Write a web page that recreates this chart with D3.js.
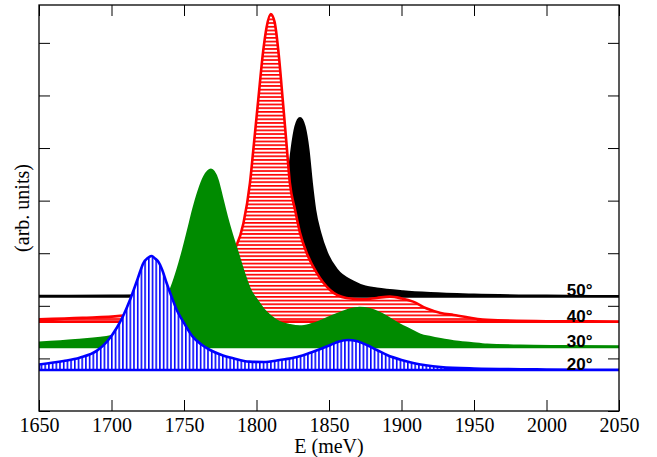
<!DOCTYPE html>
<html><head><meta charset="utf-8">
<script src="https://cdn.jsdelivr.net/npm/d3@7"></script>
<style>body{margin:0;background:#fff;} svg{display:block}</style>
</head><body><svg id="c" width="657" height="457"></svg>
<script>
// ---- data ----
const xTicks = [1650,1700,1750,1800,1850,1900,1950,2000,2050];
const yTicks = [0,1,2,3,4,5,6,7];
const labels = ["50°","40°","30°","20°"];
const offsets = [2.18, 1.70, 1.22, 0.78];
const labelE = 2014;

const black50 = [[1650,0.004],[1700,0.010],[1742,0.023],[1770,0.067],[1790,0.162],[1800,0.276],[1808,0.504],[1813,0.789],[1817,1.169],[1820,1.740],[1822,2.215],[1824.3,2.785],[1827,3.228],[1830,3.388],[1833,3.228],[1835.7,2.785],[1838,2.158],[1840.3,1.644],[1843.8,1.207],[1848.4,0.827],[1855.3,0.504],[1866.8,0.276],[1875,0.181],[1883,0.143],[1901,0.091],[1920,0.057],[1950,0.029],[2000,0.010],[2050,0.000]];

const red40 = [[1650,0.042],[1680,0.070],[1706,0.108],[1720,0.184],[1740,0.356],[1760,0.660],[1775,0.983],[1785,1.363],[1791,1.871],[1795.5,2.637],[1797.8,3.264],[1801.2,4.215],[1804.7,5.165],[1807,5.603],[1809.8,5.850],[1812.5,5.694],[1815,5.165],[1818.1,4.215],[1820.8,3.340],[1823,2.637],[1826.6,2.124],[1830,1.686],[1834.6,1.306],[1841.5,0.926],[1850.7,0.602],[1862,0.450],[1873.5,0.422],[1883,0.450],[1892,0.475],[1900,0.441],[1908,0.380],[1917,0.255],[1927,0.165],[1936,0.127],[1959,0.032],[2000,0.008],[2050,0.002]];

const green30 = [[1650,0.076],[1675,0.124],[1700,0.200],[1710,0.285],[1720,0.437],[1730,0.665],[1740,1.027],[1742.6,1.211],[1749.5,1.844],[1753,2.224],[1756.4,2.605],[1760,2.947],[1764,3.232],[1768.6,3.365],[1773,3.175],[1776,2.852],[1779.4,2.477],[1783,2.129],[1786.3,1.844],[1791,1.426],[1795.5,1.084],[1800,0.894],[1805,0.703],[1810,0.570],[1816,0.462],[1823,0.409],[1830,0.386],[1837,0.418],[1844,0.481],[1851,0.570],[1858,0.646],[1864,0.703],[1871,0.736],[1878,0.713],[1885,0.641],[1892,0.532],[1899,0.418],[1906,0.323],[1913,0.228],[1920,0.181],[1927,0.143],[1936,0.101],[1948,0.067],[1959,0.038],[1982,0.019],[2010,0.010],[2050,0.004]];

const blue20 = [[1650,0.105],[1667,0.171],[1678,0.234],[1690,0.367],[1697,0.542],[1704,0.817],[1708,1.027],[1713,1.350],[1718,1.730],[1722,2.034],[1725,2.129],[1727.7,2.167],[1730,2.120],[1732.3,2.059],[1735,1.901],[1738,1.654],[1741,1.426],[1745,1.141],[1750,0.894],[1756,0.633],[1762,0.485],[1768,0.380],[1776,0.285],[1784,0.222],[1795,0.158],[1805,0.152],[1816,0.190],[1828,0.247],[1839,0.348],[1851,0.475],[1857,0.542],[1863,0.570],[1869,0.551],[1876,0.475],[1883,0.380],[1890,0.285],[1900,0.190],[1908,0.133],[1927,0.057],[1950,0.029],[2000,0.010],[2050,0.004]];

// ---- drawing ----
const L=39, R=619, T=5, B=411;
const x = d3.scaleLinear().domain([1650,2050]).range([L,R]);
const y = d3.scaleLinear().domain([0,7.72]).range([B,T]);
const svg = d3.select("#c");
const defs = svg.append("defs");
defs.append("clipPath").attr("id","clip").append("rect")
  .attr("x",L).attr("y",T).attr("width",R-L).attr("height",B-T);

const pr = defs.append("pattern").attr("id","hatchRed").attr("patternUnits","userSpaceOnUse")
  .attr("width",4).attr("height",3.7);
pr.append("rect").attr("width",4).attr("height",3.7).attr("fill","#fff");
pr.append("rect").attr("width",4).attr("height",1.7).attr("fill","#ff0000");

const pb = defs.append("pattern").attr("id","hatchBlue").attr("patternUnits","userSpaceOnUse")
  .attr("width",3.7).attr("height",4);
pb.append("rect").attr("width",3.7).attr("height",4).attr("fill","#fff");
pb.append("rect").attr("width",1.6).attr("height",4).attr("fill","#0000ff");

const series = [
  {data:black50, off:offsets[0], color:"#000000", fill:"#000000"},
  {data:red40,   off:offsets[1], color:"#ff0000", fill:"url(#hatchRed)"},
  {data:green30, off:offsets[2], color:"#008b00", fill:"#008b00"},
  {data:blue20,  off:offsets[3], color:"#0000ff", fill:"url(#hatchBlue)"}
];

const g = svg.append("g").attr("clip-path","url(#clip)");
series.forEach(s=>{
  const area = d3.area()
    .x(d=>x(d[0]))
    .y0(y(s.off))
    .y1(d=>y(s.off+d[1]))
    .curve(d3.curveMonotoneX);
  g.append("path").datum(s.data).attr("d",area)
    .attr("fill",s.fill).attr("stroke",s.color)
    .attr("stroke-width",2.6).attr("stroke-linejoin","round");
});

// axes
const axG = svg.append("g");
const bx = axG.append("g").attr("transform",`translate(0,${B})`)
  .call(d3.axisBottom(x).tickValues(xTicks).tickSize(-11).tickFormat(d3.format("d")));
bx.selectAll("text").attr("y",21.3).attr("dy",0)
  .style("font-family","'Liberation Serif','Times New Roman',serif").style("font-size","20px").attr("fill","#000");
axG.append("g").attr("transform",`translate(0,${T})`)
  .call(d3.axisTop(x).tickValues(xTicks).tickSize(-11).tickFormat(""));
axG.append("g").attr("transform",`translate(${L},0)`)
  .call(d3.axisLeft(y).tickValues(yTicks).tickSize(-11).tickFormat(""));
axG.append("g").attr("transform",`translate(${R},0)`)
  .call(d3.axisRight(y).tickValues(yTicks).tickSize(-11).tickFormat(""));
axG.selectAll(".domain").remove();
axG.selectAll(".tick line").attr("stroke","#000").attr("stroke-width",1);

svg.append("rect").attr("x",L).attr("y",T).attr("width",R-L).attr("height",B-T)
  .attr("fill","none").attr("stroke","#000").attr("stroke-width",1.3);

// curve labels
labels.forEach((t,i)=>{
  svg.append("text").attr("x",x(labelE)).attr("y",y(offsets[i]))
    .text(t).style("font-family","'Liberation Sans',Arial,sans-serif")
    .style("font-weight","bold").style("font-size","17px").attr("fill","#000");
});

// axis titles
svg.append("text").attr("x",(L+R)/2).attr("y",452.5).attr("text-anchor","middle")
  .style("font-family","'Liberation Serif','Times New Roman',serif").style("font-size","20px")
  .text("E (meV)");
svg.append("text").attr("transform",`translate(29,${(T+B)/2}) rotate(-90)`).attr("text-anchor","middle")
  .style("font-family","'Liberation Serif','Times New Roman',serif").style("font-size","20px")
  .text("(arb. units)");
</script></body></html>
